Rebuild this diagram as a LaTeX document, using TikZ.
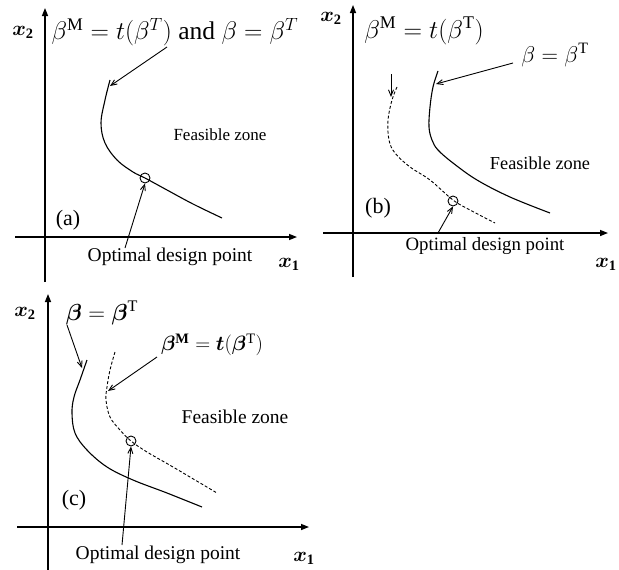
\documentclass[tikz,border=0pt]{standalone}
\usepackage{amsmath,bm}
\usepackage{fontspec}
\setmainfont{Liberation Serif}
\usetikzlibrary{arrows.meta}
\begin{document}
\begin{tikzpicture}[x=1pt,y=-1pt,
  axis/.style={line width=1.4pt,-{Triangle[length=8pt,width=6pt]}},
  curve/.style={line width=1.1pt},
  dcurve/.style={line width=0.9pt,dash pattern=on 3pt off 2pt},
  ptr/.style={line width=0.9pt,-{Straight Barb[length=6pt,width=5pt]}},
  dot/.style={circle,draw,line width=0.9pt,minimum size=10pt,inner sep=0pt},
  fz/.style={font=\fontsize{17}{20}\selectfont},
  opt/.style={font=\fontsize{19.5}{22}\selectfont},
  tag/.style={font=\fontsize{22}{24}\selectfont},
  ax/.style={font=\fontsize{20.74}{24}\selectfont},
  lab/.style={font=\fontsize{20.74}{24}\selectfont,inner sep=0pt}]
\useasboundingbox (0,0) rectangle (619,570);
% ---------- panel (a)
\coordinate (ay0) at (45,282); \coordinate (ay1) at (45,8);
\coordinate (ax0) at (15,237); \coordinate (ax1) at (297,237);
\draw[axis] (ay0) -- (ay1);
\draw[axis] (ax0) -- (ax1);
\node[ax] (ax2l) at (23,32) {$\bm{x}_{\mathbf 2}$};
\node[ax] (ax1l) at (289,264) {$\bm{x}_{\mathbf 1}$};
\draw[curve] plot[smooth,tension=0.6] coordinates {(110,80) (105,100) (101,123) (105,143) (117,160) (133,172) (145,178) (167,190) (193,204) (222,218)};
\node[dot] (adot) at (145,178) {};
\node[lab,scale=1.23] (atitle) at (175,32) {$\beta^{\mathrm{M}}=t(\beta^{T})$ and $\beta=\beta^{T}$};
\coordinate (aa1) at (167,47); \coordinate (aa2) at (110,86);
\draw[ptr] (aa1) -- (aa2);
\node[fz] (afz) at (220,135) {Feasible zone};
\node[tag] (atag) at (68,220) {(a)};
\node[opt] (aopt) at (170,257) {Optimal design point};
\coordinate (ab1) at (125,248);
\draw[ptr] (ab1) -- (adot.south);
% ---------- panel (b)
\coordinate (by0) at (353,277); \coordinate (by1) at (353,5);
\coordinate (bx0) at (323,233); \coordinate (bx1) at (608,233);
\draw[axis] (by0) -- (by1);
\draw[axis] (bx0) -- (bx1);
\node[ax] (bx2l) at (331,18) {$\bm{x}_{\mathbf 2}$};
\node[ax] (bx1l) at (606,264) {$\bm{x}_{\mathbf 1}$};
\draw[curve] plot[smooth,tension=0.6] coordinates {(438,71) (433,87) (430,107) (429,127) (432,140) (438,150) (453,163) (477,180) (510,197) (550,213)};
\draw[dcurve] plot[smooth,tension=0.6] coordinates {(397,87) (392,100) (388,120) (389,140) (395,153) (410,167) (430,180) (453,200) (470,210) (495,223)};
\node[dot] (bdot) at (453,201) {};
\node[lab,scale=1.24] (bt1) at (424,31) {$\beta^{\mathrm{M}}=t(\beta^{\mathrm{T}})$};
\node[lab,scale=1.1] (bt2) at (555,55) {$\beta=\beta^{\mathrm{T}}$};
\coordinate (ba1) at (391,74); \coordinate (ba2) at (391,97);
\draw[ptr] (ba1) -- (ba2);
\coordinate (bb1) at (513,63); \coordinate (bb2) at (436,84);
\draw[ptr] (bb1) -- (bb2);
\node[fz,font=\fontsize{18.3}{22}\selectfont] (bfz) at (540,163) {Feasible zone};
\node[tag] (btag) at (378,208) {(b)};
\node[opt,font=\fontsize{18.8}{22}\selectfont] (bopt) at (485,246) {Optimal design point};
\coordinate (bc1) at (438,233);
\draw[ptr] (bc1) -- (bdot.south);
% ---------- panel (c)
\coordinate (cy0) at (48,570); \coordinate (cy1) at (48,294);
\coordinate (cx0) at (17,527); \coordinate (cx1) at (309,527);
\draw[axis] (cy0) -- (cy1);
\draw[axis] (cx0) -- (cx1);
\node[ax] (cx2l) at (25,313) {$\bm{x}_{\mathbf 2}$};
\node[ax] (cx1l) at (304,558) {$\bm{x}_{\mathbf 1}$};
\draw[curve] plot[smooth,tension=0.6] coordinates {(87,360) (80,380) (74,397) (72,413) (75,433) (87,450) (107,467) (133,480) (167,493) (202,507)};
\draw[dcurve] plot[smooth,tension=0.6] coordinates {(115,352) (110,370) (107,387) (106,400) (110,417) (120,430) (131,441) (147,452) (173,467) (217,493)};
\node[dot] (cdot) at (131,441) {};
\node[lab,scale=1.12] (ct1) at (102,313) {$\bm{\beta}=\bm{\beta}^{\mathrm{T}}$};
\node[lab] (ct2) at (212,345) {$\bm{\beta}^{\mathbf{M}}=\bm{t}(\bm{\beta}^{\mathrm{T}})$};
\coordinate (ca1) at (67,325); \coordinate (ca2) at (82,368);
\draw[ptr] (ca1) -- (ca2);
\coordinate (cb1) at (157,357); \coordinate (cb2) at (108,391);
\draw[ptr] (cb1) -- (cb2);
\node[fz,font=\fontsize{19.5}{22}\selectfont] (cfz) at (235,417) {Feasible zone};
\node[tag] (ctag) at (74,500) {(c)};
\node[opt] (copt) at (158,555) {Optimal design point};
\coordinate (cc1) at (122,545);
\draw[ptr] (cc1) -- (cdot.south);
\end{tikzpicture}
\end{document}
